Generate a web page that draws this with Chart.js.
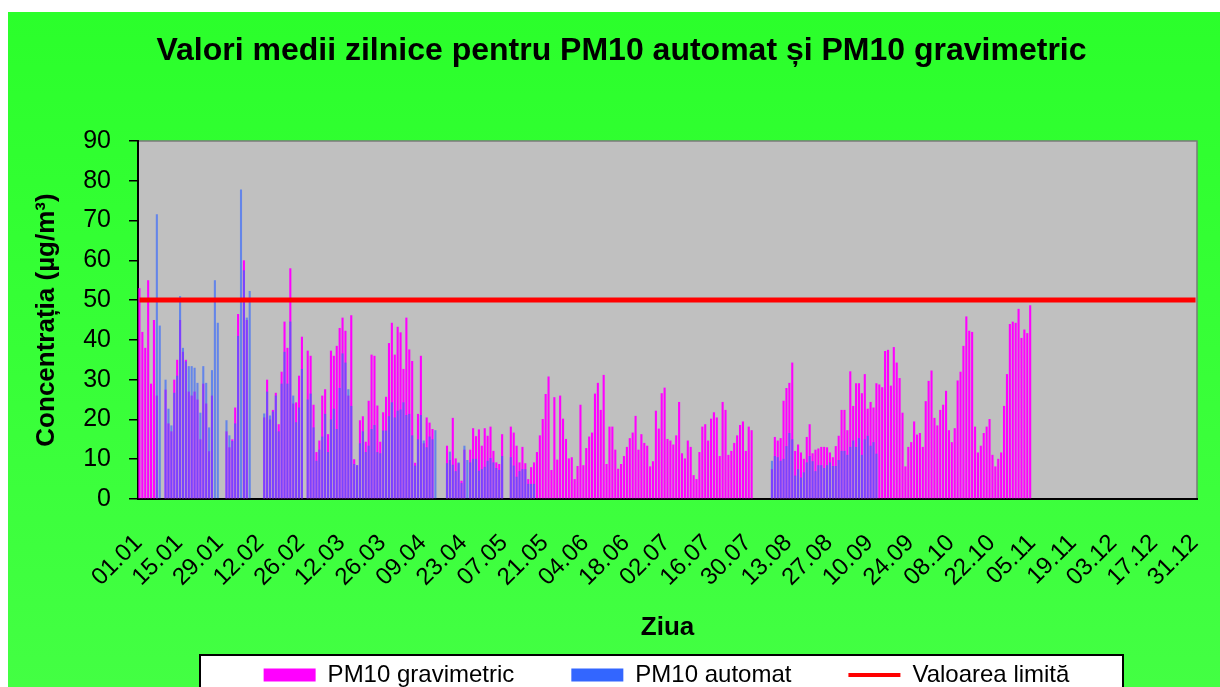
<!DOCTYPE html>
<html>
<head>
<meta charset="utf-8">
<script src="https://cdn.jsdelivr.net/npm/chart.js@4.4.0/dist/chart.umd.min.js"></script>
<style>
  html, body { margin: 0; padding: 0; background: #fff; }
  #wrap {
    position: absolute; left: 8px; top: 12px; width: 1212px; height: 675px;
    background: linear-gradient(#2bff2b, #43ff43);
  }
</style>
</head>
<body>
<div id="wrap"><canvas id="pm10Chart" width="1212" height="675"></canvas></div>
<script>
const N = null;
const gap = n => Array(n).fill(null); // zile fara masuratori

// Zilele anului (categorii)
const monthLengths = [31, 28, 31, 30, 31, 30, 31, 31, 30, 31, 30, 31];
const dayLabels = [];
monthLengths.forEach((len, m) => {
    for (let d = 1; d <= len; d++) {
        dayLabels.push(String(d).padStart(2, '0') + '.' + String(m + 1).padStart(2, '0'));
    }
});

// Etichetele afisate pe axa X (din 14 in 14 zile)
const tickLabels = ['01.01', '15.01', '29.01', '12.02', '26.02', '12.03', '26.03', '09.04', '23.04',
    '07.05', '21.05', '04.06', '18.06', '02.07', '16.07', '30.07', '13.08', '27.08', '10.09',
    '24.09', '08.10', '22.10', '05.11', '19.11', '03.12', '17.12', '31.12'];

// PM10 gravimetric (µg/m³)
const gravimetric = [
    // ianuarie
    53, 42, 38, 55, 29, 45, 26, N, N, 27.5, 19, 17, 30, 35, 45, 37, 35, 27, 26, 27, 25, 15, 29, 24, 12, 26, N, N, N, N, 17,
    // februarie
    13, 15, 23, 46.5, N, 60, 45, N, N, N, N, N, 20.5, 30, 20, 22.4, 26.7, 18.8, 32, 44.6, 38, 58, 24, 24.3, 31, 40.8, N, 37.3,
    // martie
    36, 23.7, 11.8, 14.7, 26, 27.6, 16.3, 37.3, 36, 38.5, 43, 45.6, 42.3, 26, 46.2, 10, 8.5, 19.8, 20.8, 14.4, 24.7, 36.3, 36, 23.5, 14.4, 21.8, 25.7, 39.2, 44.3, 36.3, 43.3,
    // aprilie
    41.9, 32.7, 45.6, 37.6, 34.7, 9.1, 21.4, 36, 14, 20.5, 19.2, 17.6, N, N, N, N, 13.4, 9.8, 20.4, 10.2, 9, 4.6, 12.4, N, 12.4, 17.8, 15.8, 17.5, 13.4, 17.8,
    // mai
    15.9, 18.2, 12.1, 9.2, 8.8, 16.3, N, N, 18.2, 16.7, 13.4, 9.2, 13.1, 9, 5, 8, 9.2, 11.8, 16, 20.1, 26.4, 30.8, 7.3, 25.6, 9.9, 26, 20.2, 15.1, 10.2, 10.5, 5,
    // iunie
    8.3, 23.7, 8.5, 12.8, 15.7, 16.7, 26.5, 29.2, 22.4, 31.2, 8.8, 18.2, 18.2, 12.4, 7.6, 8.8, 10.8, 13.1, 15.3, 16.7, 20.9, 12.4, 16.3, 14.1, 13.4, 8.2, 9.5, 22.2, 17.7, 26.6,
    // iulie
    28, 15.1, 14.7, 13.7, 16, 24.4, 11.5, 10.2, 14.7, 13.1, 6, 5, 11.8, 18.2, 18.8, 14.7, 20.2, 21.8, 20.5, 10.8, 24.4, 22.4, 11.1, 12.1, 14.1, 16, 18.6, 19.5, 12.1, 18.2, 17.3,
    // august
    ...gap(6), 7.5, 15.6, 14.7, 15.3, 24.7, 27.9, 29.2, 34.3, 12.1, 13.7, 11.7, 10.1, 15.6, 18.8, 11.5, 12.4, 12.7, 13.1, 13.1, 13, 11.7, 10.5, 13.3, 15.9, 22.4,
    // septembrie
    22.4, 17.3, 32.1, 23.4, 29.1, 29.1, 26.6, 31.4, 22.7, 24.4, 23, 29.1, 28.8, 28.1, 37.2, 37.5, 28.5, 38.2, 34.3, 30.4, 21.7, 8.2, 13.1, 14.3, 19.5, 16.2, 16.6, 13.1, 24.6, 29.7,
    // octombrie
    32.3, 20.4, 18.5, 22.4, 23.7, 27.2, 17.3, 14.3, 17.8, 29.8, 32, 38.5, 45.9, 42.3, 42, 18.2, 11.7, 13.4, 16.6, 18.2, 20.1, 11.1, 8.2, 10.1, 11.7, 23.4, 31.4, 44, 44.6, 44.3, 47.8,
    // noiembrie, decembrie
    40.5, 42.6, 41.7, 48.7, ...gap(26),
    ...gap(31)
];

// PM10 automat (µg/m³)
const automat = [
    // ianuarie
    ...gap(6), 71.6, 43.6, N, 30, 22.7, 18.5, 26.7, 31, 51, 38, 34.6, 33.4, 33.4, 33, 29.2, 21.7, 33.4, 29.2, 18, 32.4, 55, 44.3, N, N, 19.8,
    // februarie
    16, 14.6, 19, 41, 77.8, 57.5, 45.6, 52.3, N, N, N, N, 21.5, 27, 21, 22, 26, 17, 29, 37, 29, 44.6, 26, 19.3, 23, 32.7, N, 25,
    // martie
    26.5, 18, 9.6, 12.4, 15.7, 21.4, 11.8, 20, 22.7, 17.6, 27.9, 36.6, 34.3, 27.6, 23.4, 8.8, 8.5, 14, 17, 11.8, 13.4, 17.6, 18.6, 11.8, 11.5, 17.2, 17.2, 20.8, 24.3, 20.5, 22.2,
    // aprilie
    22.5, 24.3, 21.1, 21.4, 16, 8.4, 15, 21.1, 14.7, 13, 15.7, 15, 17.3, N, N, N, 9, 11.9, 8.6, 7, 9.2, 4, 13.4, 9.8, 9.2, 10.1, 10.1, 7.1, 7.5, 8.1,
    // mai
    9.6, 10.3, 9.2, 7.8, 7.3, 10.8, N, N, 10.5, 8.4, 5.6, 7, 7.5, 7.5, 3.8, 3.8, 3.8, ...gap(14),
    // iunie, iulie
    ...gap(30), ...gap(31),
    // august
    ...gap(6), 9.6, 10.8, 10.5, 9.6, 10.1, 13.3, 16.6, 15, 5.9, 7.5, 5.4, 6.7, 9.2, 10.8, 9.5, 7, 8.5, 8.5, 7.8, 8.5, 9.2, 8.3, 8.3, 9.8, 12.1,
    // septembrie
    12.1, 11.1, 13.1, 14.7, 13.1, 15.3, 11.1, 15, 15.9, 13.4, 14.3, 11.4, ...gap(18),
    // octombrie - decembrie
    ...gap(31), ...gap(30), ...gap(31)
];

// Valoarea limita zilnica
const limitValue = 50;
const limitPoints = [{ x: '01.01', y: limitValue }, { x: '31.12', y: limitValue }];

const legendItems = [
    { text: 'PM10 gravimetric', color: '#ff00ff', style: 'rect' },
    { text: 'PM10 automat', color: '#3366ff', style: 'rect' },
    { text: 'Valoarea limită', color: '#ff0000', style: 'line' }
];

// Fundalul zonei de grafic si chenarul legendei
const chartBackground = {
    id: 'chartBackground',
    afterLayout(chart) {
        chart.legend.left += 64;
        chart.legend.right += 64;
        chart.titleBlock.left += 19;
        chart.titleBlock.right += 19;
    },
    beforeDraw(chart) {
        const { ctx, chartArea: a } = chart;
        ctx.save();
        ctx.fillStyle = '#c0c0c0';
        ctx.fillRect(a.left, a.top, a.right - a.left, a.bottom - a.top);
        ctx.strokeStyle = '#7a7a7a';
        ctx.lineWidth = 1.5;
        ctx.strokeRect(a.left, a.top, a.right - a.left, a.bottom - a.top);
        ctx.fillStyle = '#ffffff';
        ctx.fillRect(192, 643, 923, 60);
        ctx.strokeStyle = '#000';
        ctx.lineWidth = 2;
        ctx.strokeRect(192, 643, 923, 60);
        ctx.restore();
    }
};

Chart.defaults.font.family = '"Liberation Sans", Arial, sans-serif';
Chart.defaults.color = '#000';

const ctx = document.getElementById('pm10Chart').getContext('2d');
new Chart(ctx, {
    type: 'bar',
    data: {
        labels: dayLabels,
        datasets: [
            {
                label: 'PM10 gravimetric',
                data: gravimetric,
                backgroundColor: '#ff00ff',
                grouped: false,
                barPercentage: 0.72,
                categoryPercentage: 1,
                order: 3
            },
            {
                label: 'PM10 automat',
                data: automat,
                backgroundColor: 'rgba(51, 102, 255, 0.65)',
                grouped: false,
                barPercentage: 0.72,
                categoryPercentage: 1,
                order: 2
            },
            {
                type: 'line',
                label: 'Valoarea limită',
                data: limitPoints,
                borderColor: '#ff0000',
                borderWidth: 5,
                pointRadius: 0,
                order: 1
            }
        ]
    },
    options: {
        responsive: false,
        animation: false,
        layout: { padding: { left: 0, right: 23, top: 0, bottom: -10 } },
        plugins: {
            title: {
                display: true,
                text: 'Valori medii zilnice pentru PM10 automat și PM10 gravimetric',
                color: '#000',
                font: { size: 32, weight: 'bold' },
                padding: { top: 20, bottom: 70.6 }
            },
            legend: {
                position: 'bottom',
                labels: {
                    usePointStyle: true,
                    pointStyleWidth: 52,
                    boxHeight: 13,
                    padding: 57,
                    color: '#000',
                    font: { size: 24 },
                    generateLabels: () => legendItems.map((item, i) => ({
                        text: item.text,
                        fillStyle: item.color,
                        strokeStyle: item.color,
                        lineWidth: item.style === 'line' ? 4 : 0,
                        pointStyle: item.style,
                        fontColor: '#000',
                        hidden: false,
                        datasetIndex: i
                    }))
                }
            },
            tooltip: { enabled: false }
        },
        scales: {
            x: {
                ticks: {
                    autoSkip: false,
                    minRotation: 45,
                    maxRotation: 45,
                    padding: 0,
                    labelOffset: -1,
                    color: '#000',
                    font: { size: 24 },
                    callback: (value, index) => tickLabels.includes(dayLabels[index]) ? dayLabels[index] : null
                },
                // liniile de grila nu se vad; tickLength doar coboara etichetele
                grid: { display: false, drawTicks: true, tickLength: 30 },
                border: { display: true, color: '#000', width: 2 },
                title: {
                    display: true,
                    text: 'Ziua',
                    color: '#000',
                    font: { size: 26, weight: 'bold' },
                    padding: { top: 0, bottom: -37 }
                },
                afterFit: scale => { scale.height = 107; }
            },
            y: {
                min: 0,
                max: 90,
                ticks: { stepSize: 10, padding: 18, color: '#000', font: { size: 25 } },
                grid: { drawOnChartArea: false, drawTicks: true, tickLength: 9, color: '#000', lineWidth: 1.5 },
                border: { display: true, color: '#000', width: 2 },
                title: {
                    display: true,
                    text: 'Concentrația (µg/m³)',
                    color: '#000',
                    font: { size: 26, weight: 'bold' },
                    padding: { top: 23, bottom: 0 }
                },
                afterFit: scale => { scale.width = 130; }
            }
        }
    },
    plugins: [chartBackground]
});
</script>
</body>
</html>
